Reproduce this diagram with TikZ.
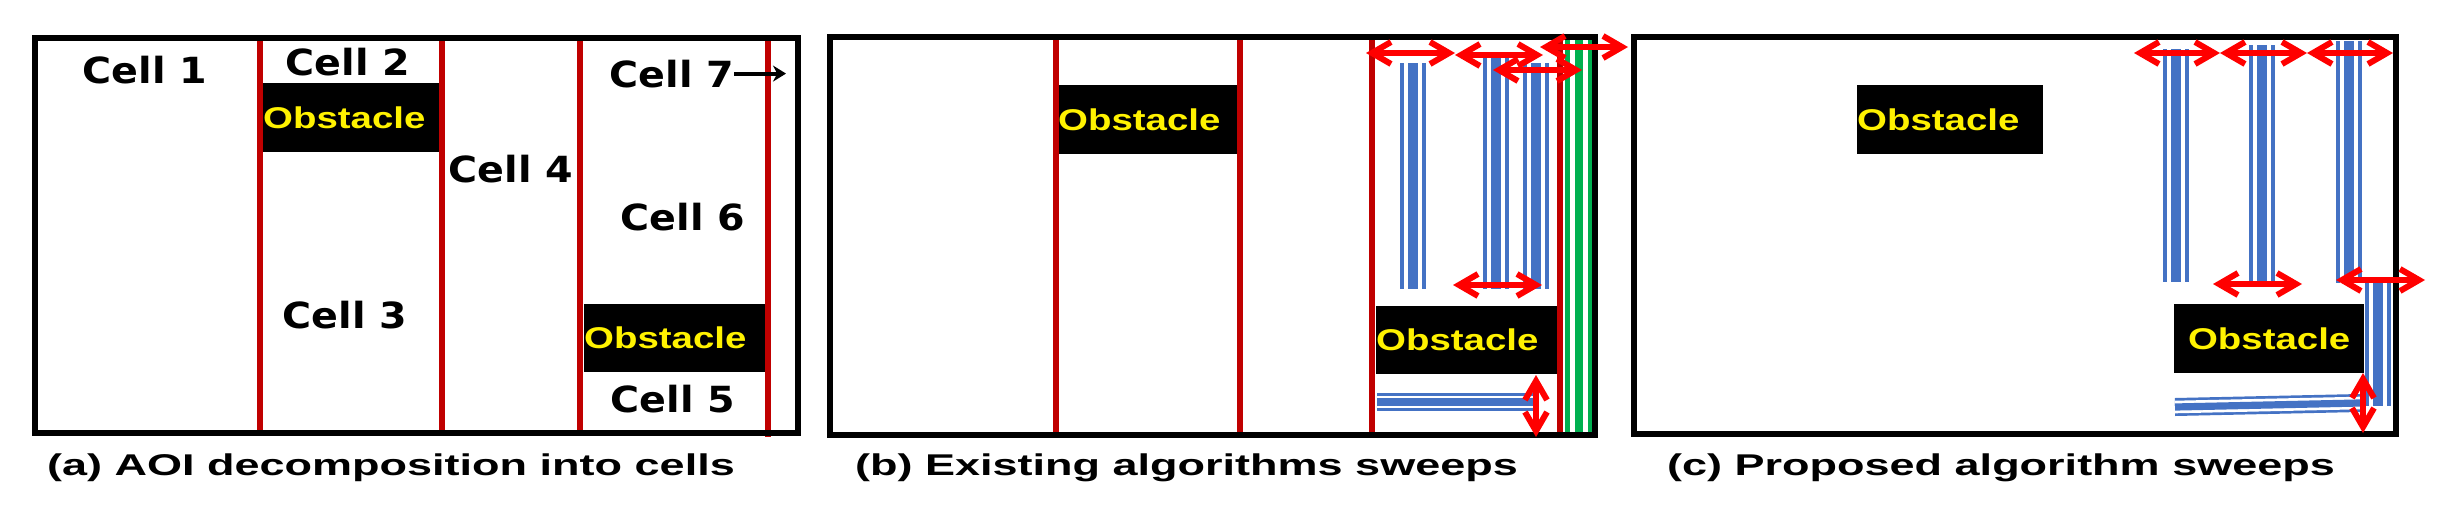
\documentclass[tikz,border=0pt]{standalone}
\usepackage{fontspec}
\usepackage{graphicx}
\usetikzlibrary{arrows.meta, positioning, calc}

\newfontfamily\cellfont{DejaVu Sans}
\newfontfamily\capfont{Liberation Sans}
\definecolor{sweepblue}{HTML}{4472C4}
\definecolor{sweepgreen}{HTML}{00B050}
\definecolor{celldiv}{HTML}{C00000}
\newcommand{\widen}[2]{\scalebox{#1}[1]{#2}}

\begin{document}
\begin{tikzpicture}[x=1pt, y=-1pt,
    aoiframe/.style={draw=black, line width=6pt},
    divider/.style={draw=celldiv, line width=5.5pt},
    obstacle/.style={fill=black, text=yellow, inner sep=0pt, minimum height=69pt, anchor=north west, align=left, font=\capfont\bfseries\fontsize{30}{32}\selectfont},
    celllabel/.style={inner sep=0pt, anchor=base, font=\cellfont\bfseries\fontsize{36}{40}\selectfont},
    panelcap/.style={inner sep=0pt, anchor=base west, font=\capfont\bfseries\fontsize{30}{34}\selectfont},
    sweepband/.style={draw=sweepblue, line width=#1, postaction={draw=white, line width=0.7*#1}, postaction={draw=sweepblue, line width=0.4*#1}},
    greenband/.style={draw=sweepgreen, line width=28pt, postaction={draw=white, line width=18pt}, postaction={draw=sweepgreen, line width=8pt}},
    sweeparrow/.style={draw=red, line width=6pt, arrows={Straight Barb[length=19pt,width=22pt]-Straight Barb[length=19pt,width=22pt]}}]

    \fill[white] (0,0) rectangle (2442,504);
    \useasboundingbox (0,0) rectangle (2442,504);

    \node[obstacle, text width=178pt] (obsA1) at (263,83) {\widen{1.28}{Obstacle}};
    \node[obstacle, text width=184pt, minimum height=68pt] (obsA2) at (584,304) {\widen{1.28}{Obstacle}};
    \node[obstacle, text width=179pt] (obsB1) at (1058,85) {\widen{1.28}{Obstacle}};
    \node[obstacle, text width=182pt, minimum height=68pt] (obsB2) at (1376,306) {\widen{1.28}{Obstacle}};
    \node[obstacle, text width=186pt] (obsC1) at (1857,85) {\widen{1.28}{Obstacle}};
    \node[obstacle, text width=190pt, align=center] (obsC2) at (2174,304) {\widen{1.28}{Obstacle}};

    \draw[divider] (260,38) -- (260,433);
    \draw[divider] (442,38) -- (442,433);
    \draw[divider] (580,38) -- (580,433);
    \draw[divider] (768,38) -- (768,437);

    \draw[divider] (1056,37) -- (1056,435);
    \draw[divider] (1240,37) -- (1240,435);
    \draw[divider] (1372,37) -- (1372,435);
    \draw[divider] (1560,37) -- (1560,437);

    \draw[sweepband=26pt] (1413,63) -- (1413,289);
    \draw[sweepband=26pt] (1496,58) -- (1496,289);
    \draw[sweepband=26pt] (1536,63) -- (1536,289);
    \draw[sweepband=18pt] (1377,402) -- (1535,402);
    \draw[greenband] (1579,38) -- (1579,434);

    \draw[sweepband=26pt] (2176,49) -- (2176,282);
    \draw[sweepband=26pt] (2262,45) -- (2262,282);
    \draw[sweepband=26pt] (2349,41) -- (2349,283);
    \draw[sweepband=26pt] (2378,283) -- (2378,406);
    \draw[sweepband=18pt] (2175,407) -- (2360,403);

    \draw[aoiframe] (35,38) rectangle (798,433);
    \draw[aoiframe] (830,37) rectangle (1595,435);
    \draw[aoiframe] (1634,37) rectangle (2396,434);

    \node[celllabel] (cell1) at (145,83) {\widen{1.1}{Cell 1}};
    \node[celllabel] (cell2) at (348,75) {\widen{1.1}{Cell 2}};
    \node[celllabel] (cell7) at (672,87) {\widen{1.1}{Cell 7}};
    \node[celllabel] (cell4) at (511,182) {\widen{1.1}{Cell 4}};
    \node[celllabel] (cell6) at (683,230) {\widen{1.1}{Cell 6}};
    \node[celllabel] (cell3) at (345,328) {\widen{1.1}{Cell 3}};
    \node[celllabel] (cell5) at (673,412) {\widen{1.1}{Cell 5}};
    \coordinate (cell7tip) at (786,75);
    \draw[-{Stealth[length=13pt,width=16pt]}, line width=4pt] (cell7.east) -- (cell7.east -| cell7tip);

    \draw[sweeparrow] (1366,53) -- (1455,53);
    \draw[sweeparrow] (1455,55) -- (1543,55);
    \draw[sweeparrow] (1493,70) -- (1582,70);
    \draw[sweeparrow] (1540,47) -- (1628,47);
    \draw[sweeparrow] (1453,285) -- (1542,285);
    \draw[sweeparrow] (1536,375) -- (1536,437);

    \draw[sweeparrow] (2134,53) -- (2220,53);
    \draw[sweeparrow] (2220,53) -- (2307,53);
    \draw[sweeparrow] (2307,53) -- (2393,53);
    \draw[sweeparrow] (2213,284) -- (2302,284);
    \draw[sweeparrow] (2336,280) -- (2425,280);
    \draw[sweeparrow] (2363,373) -- (2363,433);

    \node[panelcap] (capA) at (47,475) {\widen{1.5}{(a) AOI decomposition into cells}};
    \node[panelcap] (capB) at (855,475) {\widen{1.5}{(b) Existing algorithms sweeps}};
    \node[panelcap] (capC) at (1667,475) {\widen{1.5}{(c) Proposed algorithm sweeps}};

\end{tikzpicture}
\end{document}
